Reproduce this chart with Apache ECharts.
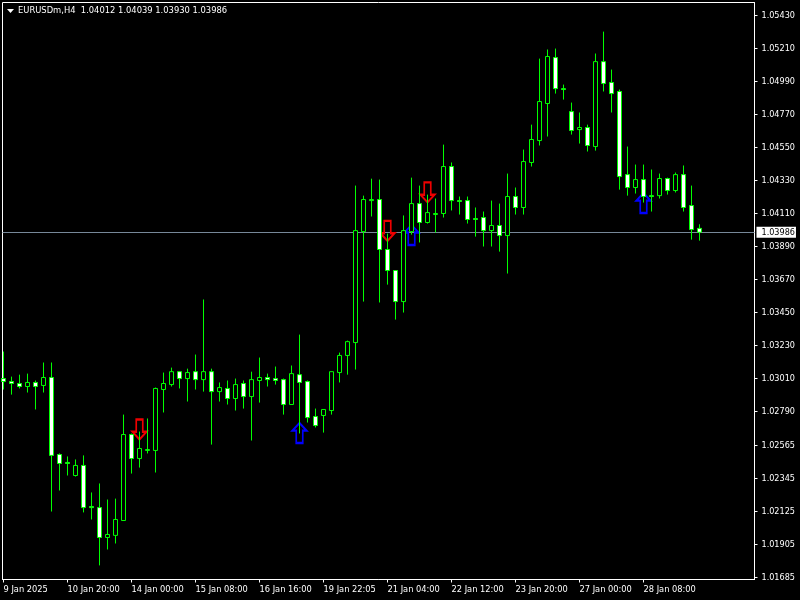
<!DOCTYPE html>
<html>
<head>
<meta charset="utf-8">
<style>
  html, body { margin: 0; padding: 0; background: #000; }
  #chart { width: 800px; height: 600px; }
</style>
<script src="https://cdn.jsdelivr.net/npm/echarts@6/dist/echarts.min.js"></script>
</head>
<body>
<div id="chart"></div>
<script>
// EURUSDm H4 candles
const opens = [1.03011,1.02991,1.02978,1.02958,1.02985,1.02965,1.03018,1.02505,1.02452,1.02365,1.02432,1.02158,1.02151,1.01952,1.01966,1.02065,1.02638,1.02478,1.02532,1.02532,1.02938,1.02971,1.03057,1.03011,1.03057,1.03004,1.03057,1.02924,1.02945,1.02878,1.02978,1.02891,1.02998,1.03018,1.03011,1.03004,1.02838,1.03037,1.02991,1.02758,1.02765,1.02798,1.03051,1.03165,1.03251,1.0399,1.04197,1.04204,1.03871,1.03731,1.03524,1.0399,1.04177,1.04051,1.04104,1.04111,1.04424,1.04197,1.04197,1.04077,1.04084,1.03997,1.04031,1.03964,1.04224,1.04151,1.04451,1.04597,1.04844,1.0515,1.04943,1.0479,1.0467,1.04684,1.04557,1.05123,1.04984,1.04924,1.0437,1.04284,1.04337,1.0423,1.0423,1.04344,1.04264,1.0437,1.04164,1.04012]
const closes = [1.02991,1.02978,1.02958,1.02985,1.02958,1.03018,1.02499,1.02445,1.02445,1.02432,1.02151,1.02151,1.01952,1.01972,1.02072,1.02638,1.02478,1.02545,1.02538,1.02945,1.02978,1.03057,1.03011,1.03051,1.03004,1.03057,1.02924,1.02951,1.02878,1.02971,1.02891,1.03004,1.03018,1.03004,1.02998,1.02838,1.03044,1.02985,1.02751,1.02698,1.02805,1.03057,1.03165,1.03257,1.03997,1.04204,1.04204,1.03871,1.03731,1.03524,1.03997,1.04177,1.04051,1.04117,1.04111,1.04424,1.04197,1.04191,1.04071,1.04071,1.03997,1.04031,1.03964,1.04224,1.04151,1.04457,1.04604,1.04857,1.05157,1.04943,1.04937,1.04664,1.04684,1.04564,1.05123,1.04977,1.0491,1.04357,1.04284,1.04337,1.04224,1.04224,1.04344,1.04264,1.0437,1.04151,1.04004,1.03986]
const lows = [1.02938,1.02904,1.02945,1.02918,1.02805,1.02918,1.02125,1.02265,1.02365,1.02358,1.02119,1.02072,1.01766,1.01872,1.01912,1.02065,1.02378,1.02418,1.02512,1.02385,1.02785,1.02958,1.02945,1.02858,1.02938,1.02924,1.02571,1.02858,1.02838,1.02798,1.02811,1.02598,1.02851,1.02958,1.02971,1.02771,1.02838,1.02645,1.02718,1.02685,1.02651,1.02771,1.02985,1.03037,1.03071,1.03524,1.04091,1.03518,1.03637,1.03404,1.03451,1.0397,1.03918,1.04044,1.03984,1.04084,1.04131,1.04104,1.04044,1.03957,1.03891,1.03891,1.03857,1.03711,1.04104,1.04104,1.04424,1.04564,1.04624,1.0491,1.0487,1.04637,1.04577,1.04524,1.0453,1.04924,1.04784,1.0427,1.0423,1.04244,1.04184,1.04124,1.04211,1.04237,1.04251,1.04124,1.03937,1.0393]
const highs = [1.03191,1.03024,1.03037,1.03044,1.02998,1.03118,1.03118,1.02512,1.02492,1.02472,1.02499,1.02252,1.02312,1.02205,1.02211,1.02771,1.02645,1.02658,1.02745,1.02951,1.03051,1.03084,1.03057,1.03077,1.03171,1.03538,1.03077,1.02985,1.02998,1.03011,1.02998,1.03057,1.03151,1.03044,1.03091,1.03011,1.03098,1.03304,1.02998,1.02811,1.02805,1.03057,1.03184,1.03264,1.04297,1.0423,1.04343,1.04337,1.03977,1.03731,1.04098,1.0435,1.04297,1.04237,1.04211,1.0457,1.04451,1.04224,1.04224,1.04151,1.04124,1.04197,1.04177,1.04377,1.04284,1.04537,1.04703,1.05143,1.05204,1.0521,1.0497,1.0485,1.04784,1.04703,1.05177,1.05323,1.0507,1.04937,1.04557,1.04437,1.04437,1.04404,1.04377,1.0435,1.04384,1.04431,1.04297,1.04039]

const lastPrice = 1.03986
const priceTicks = [1.0543,1.0521,1.0499,1.0477,1.0455,1.0433,1.0411,1.0389,1.0367,1.0345,1.0323,1.0301,1.0279,1.02565,1.02345,1.02125,1.01905,1.01685]
const timeTickIndex = [0,8,16,24,32,40,48,56,64,72,80]
const timeTickLabels = ['9 Jan 2025','10 Jan 20:00','14 Jan 00:00','15 Jan 08:00','16 Jan 16:00','19 Jan 22:05','21 Jan 04:00','22 Jan 12:00','23 Jan 20:00','27 Jan 00:00','28 Jan 08:00']

// signal arrows [candle index, price]
const sellArrows = [[17,1.02672],[48,1.03995],[53,1.04252]]
const buyArrows = [[37,1.02648],[51,1.03968],[80,1.04181]]

const downArrow = 'path://M4 0H11V13H15L7.5 21L0 13H4Z'
const upArrow = 'path://M7.5 0L15 8H11V21H4V8H0Z'
const textFont = '"DejaVu Sans Condensed", "Noto Sans"'

const candles = opens.map((o, i) => [i, o, closes[i], lows[i], highs[i]])

const chart = echarts.init(document.getElementById('chart'), null, { renderer: 'canvas' })
chart.setOption({
	animation: false,
	backgroundColor: '#000000',
	title: {
		text: 'EURUSDm,H4  1.04012 1.04039 1.03930 1.03986',
		left: 13,
		top: 1,
		textStyle: { color: '#ffffff', fontSize: 9.3, fontWeight: 'normal', fontFamily: textFont }
	},
	graphic: [{
		type: 'polygon',
		shape: { points: [[7, 9], [14, 9], [10.5, 13]] },
		style: { fill: '#ffffff' }
	}],
	grid: { left: 2.5, top: 2.5, width: 752, height: 577, show: true, backgroundColor: 'transparent', borderColor: '#ffffff', borderWidth: 1 },
	xAxis: {
		type: 'value',
		min: -0.125,
		max: 93.875,
		splitLine: { show: false },
		axisLine: { show: true, onZero: false, lineStyle: { color: '#ffffff' } },
		axisTick: { show: true, length: 3, customValues: timeTickIndex, lineStyle: { color: '#ffffff' } },
		axisLabel: {
			customValues: timeTickIndex,
			formatter: v => timeTickLabels[timeTickIndex.indexOf(v)],
			align: 'left',
			margin: 6,
			color: '#ffffff',
			fontSize: 9.2,
			fontFamily: textFont
		}
	},
	yAxis: {
		type: 'value',
		position: 'right',
		scale: true,
		min: 1.01672,
		max: 1.05517,
		splitLine: { show: false },
		axisLine: { show: true, onZero: false, lineStyle: { color: '#ffffff' } },
		axisTick: { show: true, length: 3, customValues: priceTicks, lineStyle: { color: '#ffffff' } },
		axisLabel: {
			customValues: priceTicks,
			formatter: v => v.toFixed(5),
			margin: 7,
			color: '#ffffff',
			fontSize: 9,
			fontFamily: textFont
		}
	},
	series: [{
		type: 'candlestick',
		z: 3,
		barWidth: 4,
		data: candles,
		encode: { x: 0, y: [1, 2, 3, 4] },
		itemStyle: { color: '#000000', color0: '#ffffff', borderColor: '#00ff00', borderColor0: '#00ff00', borderWidth: 1 },
		markLine: {
			silent: true,
			symbol: 'none',
			precision: 5,
			z: 1,
			data: [{ yAxis: lastPrice }],
			lineStyle: { color: '#778899', type: 'solid', width: 1 },
			label: {
				position: 'end',
				distance: 2,
				formatter: () => lastPrice.toFixed(5),
				color: '#000000',
				backgroundColor: '#ffffff',
				fontSize: 9,
				fontFamily: textFont,
				padding: [1, 1, 1, 5]
			}
		}
	}, {
		type: 'scatter',
		z: 2,
		data: sellArrows,
		symbol: downArrow,
		symbolSize: [14, 20],
		itemStyle: { color: 'rgba(0,0,0,0)', borderColor: '#ee0000', borderWidth: 2, opacity: 1 }
	}, {
		type: 'scatter',
		z: 2,
		data: buyArrows,
		symbol: upArrow,
		symbolSize: [14, 20],
		itemStyle: { color: 'rgba(0,0,0,0)', borderColor: '#0000ff', borderWidth: 2, opacity: 1 }
	}]
})
</script>
</body>
</html>
